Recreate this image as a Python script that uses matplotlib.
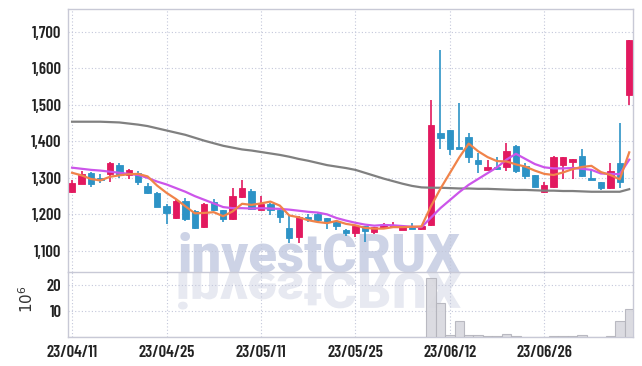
import matplotlib
matplotlib.use("Agg")
import matplotlib.pyplot as plt
from matplotlib.textpath import TextPath
from matplotlib.patches import PathPatch
from matplotlib.font_manager import FontProperties
from matplotlib.transforms import Affine2D
from matplotlib.ticker import FuncFormatter

# daily OHLC (KRW), 60 trading days from 23/04/11
opens = [1260, 1284, 1313, 1300, 1311, 1336, 1307, 1313, 1278, 1258,
         1223, 1190, 1236, 1209, 1165, 1235, 1212, 1186, 1247, 1265,
         1213, 1229, 1212, 1162, 1137, 1194, 1202, 1189, 1179, 1156,
         1149, 1167, 1152, 1163, 1165, 1158, 1166, 1159, 1170, 1422,
         1431, 1386, 1411, 1349, 1322, 1331, 1331, 1388, 1333, 1307,
         1260, 1276, 1336, 1344, 1360, 1300, 1289, 1271, 1340, 1528]
closes = [1285, 1311, 1284, 1293, 1342, 1307, 1322, 1289, 1258, 1221,
          1205, 1236, 1188, 1163, 1229, 1212, 1186, 1249, 1272, 1214,
          1229, 1211, 1194, 1136, 1193, 1187, 1185, 1178, 1167, 1148,
          1168, 1154, 1165, 1170, 1171, 1166, 1161, 1168, 1444, 1410,
          1380, 1380, 1358, 1338, 1331, 1324, 1373, 1320, 1305, 1276,
          1280, 1358, 1357, 1351, 1305, 1295, 1271, 1318, 1289, 1678]
highs = [1295, 1320, 1315, 1311, 1343, 1342, 1323, 1318, 1285, 1260,
         1229, 1242, 1244, 1212, 1231, 1243, 1213, 1272, 1293, 1270,
         1250, 1230, 1213, 1198, 1196, 1202, 1203, 1191, 1180, 1160,
         1171, 1168, 1166, 1176, 1178, 1168, 1175, 1169, 1513, 1650,
         1432, 1505, 1424, 1368, 1349, 1357, 1397, 1389, 1340, 1308,
         1289, 1360, 1358, 1353, 1379, 1322, 1290, 1342, 1450, 1678]
lows = [1258, 1283, 1275, 1285, 1290, 1300, 1296, 1280, 1256, 1220,
        1174, 1188, 1182, 1161, 1163, 1208, 1180, 1184, 1246, 1212,
        1212, 1198, 1177, 1122, 1122, 1178, 1175, 1160, 1156, 1140,
        1138, 1125, 1145, 1162, 1164, 1157, 1160, 1157, 1168, 1380,
        1364, 1378, 1340, 1313, 1321, 1322, 1318, 1313, 1298, 1275,
        1258, 1271, 1296, 1296, 1303, 1293, 1268, 1270, 1273, 1499]

# volume in millions
volumes = [0.05, 0.05, 0.05, 0.05, 0.05, 0.05, 0.05, 0.05, 0.05, 0.05,
           0.05, 0.05, 0.05, 0.05, 0.05, 0.05, 0.05, 0.05, 0.05, 0.05,
           0.05, 0.05, 0.05, 0.05, 0.05, 0.05, 0.05, 0.05, 0.05, 0.05,
           0.05, 0.05, 0.05, 0.05, 0.05, 0.05, 0.05, 0.05, 22.7, 13.0,
           0.6, 6.0, 0.6, 0.6, 0.3, 0.3, 1.1, 0.4, 0.1, 0.1,
           0.1, 0.3, 0.3, 0.3, 0.6, 0.1, 0.1, 0.3, 6.0, 10.6]

# moving averages
ma5 = [1314, 1307, 1297, 1293, 1303, 1307, 1310, 1311, 1304, 1279,
       1259, 1242, 1222, 1203, 1204, 1206, 1195, 1208, 1229, 1226,
       1230, 1235, 1224, 1197, 1192, 1184, 1179, 1176, 1182, 1174,
       1170, 1163, 1161, 1161, 1165, 1165, 1166, 1167, 1222, 1270,
       1313, 1356, 1394, 1373, 1357, 1346, 1345, 1337, 1331, 1320,
       1311, 1308, 1315, 1324, 1330, 1333, 1316, 1308, 1296, 1370]
ma10 = [1328, 1325, 1322, 1320, 1317, 1314, 1311, 1308, 1300, 1290,
        1282, 1272, 1262, 1250, 1240, 1230, 1220, 1217, 1217, 1216,
        1217, 1216, 1215, 1213, 1210, 1207, 1205, 1200, 1190, 1183,
        1177, 1172, 1169, 1171, 1170, 1168, 1166, 1165, 1191, 1217,
        1239, 1261, 1281, 1297, 1313, 1329, 1350, 1366, 1352, 1338,
        1329, 1326, 1326, 1327, 1325, 1322, 1312, 1311, 1310, 1350]
ma60 = [1454, 1454, 1454, 1454, 1453, 1452, 1449, 1446, 1442, 1436,
        1430, 1424, 1418, 1410, 1402, 1395, 1388, 1383, 1378, 1375,
        1371, 1367, 1363, 1358, 1352, 1347, 1341, 1335, 1331, 1327,
        1322, 1314, 1306, 1298, 1291, 1284, 1278, 1274, 1273, 1273,
        1272, 1271, 1271, 1270, 1270, 1269, 1268, 1267, 1267, 1266,
        1265, 1265, 1264, 1264, 1263, 1262, 1262, 1262, 1262, 1269]

tick_pos = [0, 10, 20, 30, 40, 50]
tick_labels = ["23/04/11", "23/04/25", "23/05/11", "23/05/25", "23/06/12", "23/06/26"]

up_color = '#e2195f'
down_color = '#2d93c6'
grid_color = '#c3c7da'
spine_color = '#c8c9d6'
tick_fp = FontProperties(family=['Barlow Condensed', 'DejaVu Sans'],
                         weight='semibold', size=12)
wm_fp = FontProperties(family=['Roboto', 'Liberation Sans'], weight='black')

W, H = 642, 366
fig = plt.figure(figsize=(W / 100, H / 100), dpi=100)
left, right = 68.3, 633
ax1 = fig.add_axes([left / W, 1 - 272 / H, (right - left) / W, (272 - 9) / H])
ax2 = fig.add_axes([left / W, 1 - 337 / H, (right - left) / W, (337 - 272) / H],
                   sharex=ax1)

x = list(range(len(closes)))

# watermark text, sized to the reference width (178..461 px)
base = H - 272
wm = fig.text(178 / W, base / H, "investCRUX", fontproperties=wm_fp,
              fontsize=36, color='#cdd3e6', ha='left', va='baseline', zorder=-1)
fig.canvas.draw()
bb = wm.get_window_extent()
wm.set_fontsize(36 * (461 - 178) / bb.width)

# its mirror image below the baseline
wp = TextPath((0, 0), "investCRUX", size=1, prop=wm_fp)
ext = wp.get_extents()
sx = (461 - 178) / ext.width
sy = 37 / ext.height
tr2 = Affine2D().translate(-ext.x0, 0).scale(sx, -sy).translate(178, base - 1)
fig.add_artist(PathPatch(wp, transform=tr2, facecolor='#e7e9f1',
                         edgecolor='none', zorder=-1))

for ax in (ax1, ax2):
    ax.set_facecolor('none')
    for s in ax.spines.values():
        s.set_color(spine_color)
        s.set_linewidth(1.0)
    ax.grid(True, linestyle=(0, (1, 2)), color=grid_color, linewidth=0.8)
    ax.set_axisbelow(True)
    ax.tick_params(length=0, colors='#222222')

# candles
for i in x:
    o, c = opens[i], closes[i]
    col = up_color if c >= o else down_color
    ax1.vlines(i, lows[i], highs[i], color=col, linewidth=1.2, zorder=3)
    ax1.bar(i, max(abs(c - o), 2), bottom=min(o, c), width=0.68,
            color=col, edgecolor=col, linewidth=0.6, zorder=4)

ax1.plot(x, ma60, color='#808080', linewidth=1.6, zorder=5)
ax1.plot(x, ma10, color='#cc55ea', linewidth=1.6, zorder=5)
ax1.plot(x, ma5, color='#f0834a', linewidth=1.6, zorder=6)

ax1.set_xlim(-0.4, 59.4)
ax1.set_ylim(1042, 1763)
ax1.set_yticks([1100, 1200, 1300, 1400, 1500, 1600, 1700])
ax1.yaxis.set_major_formatter(FuncFormatter(lambda v, p: f"{int(v):,}"))
ax1.tick_params(axis='y', pad=5)
plt.setp(ax1.get_xticklabels(), visible=False)
for lab in ax1.get_yticklabels():
    lab.set_fontproperties(tick_fp)

# volume
ax2.bar(x, volumes, width=1.0, color='#d8d8de', edgecolor='#b4b4bc',
        linewidth=0.8, alpha=0.9, zorder=3)
ax2.set_ylim(0, 25)
ax2.set_yticks([10, 20])
ax2.set_xticks(tick_pos)
ax2.set_xticklabels(tick_labels)
ax2.tick_params(axis='x', pad=6)
ax2.tick_params(axis='y', pad=5)
for lab in ax2.get_xticklabels() + ax2.get_yticklabels():
    lab.set_fontproperties(tick_fp)
ax2.set_ylabel(r'$10^6$', fontsize=11, color='#333333')
ax2.yaxis.set_label_coords(-0.058, 0.58)
ax2.spines['top'].set_visible(False)

fig.savefig("out.png", dpi=100)
